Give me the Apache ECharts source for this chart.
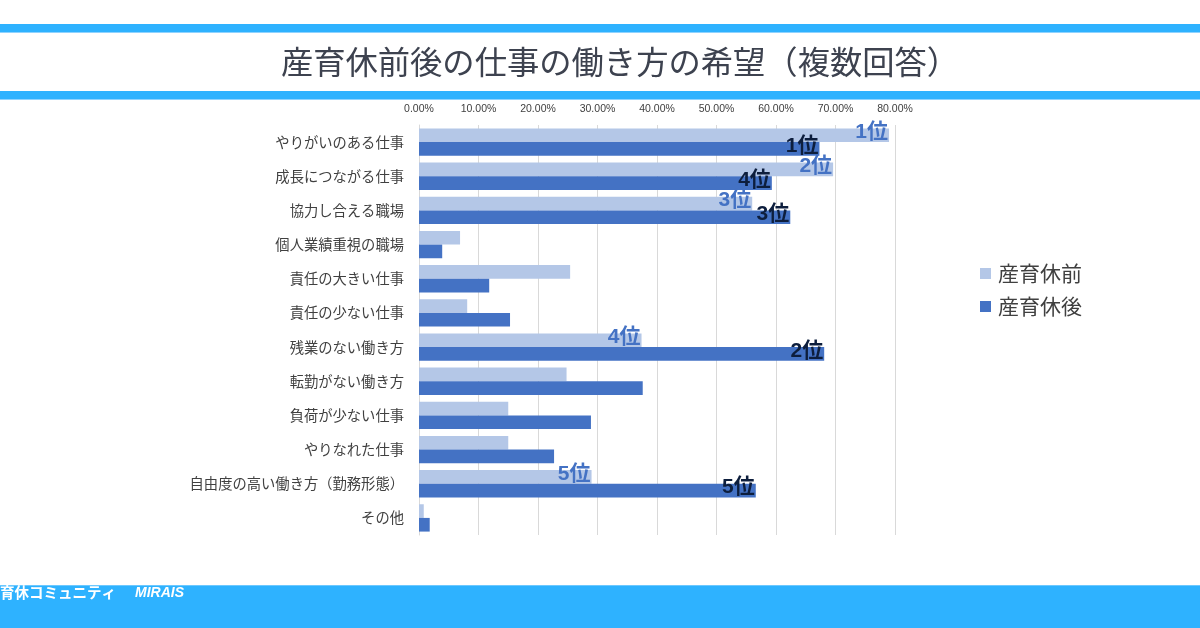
<!DOCTYPE html>
<html><head><meta charset="utf-8">
<script src="https://cdn.jsdelivr.net/npm/echarts@6/dist/echarts.min.js"></script>
<style>html,body{margin:0;padding:0;background:#fff}#c{width:1200px;height:628px}</style>
</head><body><div id="c"></div>
<script>
const categories = ['やりがいのある仕事','成長につながる仕事','協力し合える職場','個人業績重視の職場','責任の大きい仕事','責任の少ない仕事','残業のない働き方','転勤がない働き方','負荷が少ない仕事','やりなれた仕事','自由度の高い働き方（勤務形態）','その他'];
const beforeValues = [79.0, 69.6, 56.0, 6.9, 25.4, 8.1, 37.4, 24.8, 15.0, 15.0, 29.0, 0.8];
const afterValues  = [67.3, 59.3, 62.4, 3.9, 11.8, 15.3, 68.1, 37.6, 28.9, 22.7, 56.6, 1.8];
const beforeRanks = ['1位','2位','3位','','','','4位','','','','5位',''];
const afterRanks  = ['1位','4位','3位','','','','2位','','','','5位',''];
const seriesNames = ['産育休前','産育休後'];
const xTickLabels = ['0.00%','10.00%','20.00%','30.00%','40.00%','50.00%','60.00%','70.00%','80.00%'];
const titleText = '産育休前後の仕事の働き方の希望（複数回答）';
const footerText = '育休コミュニティ';
const footerBrand = 'MIRAIS';

const chart = echarts.init(document.getElementById('c'), null, {renderer:'canvas'});
const CJK = "'Noto Sans CJK JP', sans-serif";
const LAT = "'Liberation Sans', Arial, 'Noto Sans CJK JP', sans-serif";
const BAND = '#2eb2ff';

function mkSeries(name, values, ranks, color, labelColor, offY){
  return {
    name, type:'bar', barGap:'0%', barCategoryGap:'20%',
    itemStyle:{color},
    data: values,
    label:{
      show:true, position:'insideRight', distance:1, offset:[0,offY],
      formatter:p=>ranks[p.dataIndex],
      color:labelColor, fontSize:21, fontWeight:'bold', fontFamily:LAT
    },
    emphasis:{disabled:true}, animation:false
  };
}

chart.setOption({
  animation:false,
  backgroundColor:'#fff',
  title:{
    text:titleText, left:615, top:41, textAlign:'center',
    textStyle:{fontFamily:CJK, fontSize:32.3, fontWeight:'normal', color:'#3d424f'}
  },
  legend:{
    orient:'vertical', left:975, top:258, itemWidth:11, itemHeight:11, itemGap:12,
    icon:'rect', data:seriesNames,
    textStyle:{fontFamily:CJK, fontSize:21, color:'#404040', padding:[0,0,0,2]}
  },
  grid:{left:419, right:305, top:125, bottom:93, containLabel:false},
  xAxis:{
    type:'value', position:'top', min:0, max:80, interval:10,
    axisLine:{show:false}, axisTick:{show:false},
    splitLine:{lineStyle:{color:'#d9d9d9', width:1}},
    axisLabel:{margin:11, fontSize:10.5, color:'#404040', fontFamily:LAT,
      formatter:v=>xTickLabels[Math.round(v/10)]}
  },
  yAxis:{
    type:'category', data:categories, inverse:true,
    axisLine:{lineStyle:{color:'#d9d9d9'}}, axisTick:{show:false},
    axisLabel:{margin:15, fontSize:14.3, color:'#404040', fontFamily:CJK}
  },
  series:[
    mkSeries(seriesNames[0], beforeValues, beforeRanks, '#b4c7e7', '#4472c4', -3),
    mkSeries(seriesNames[1], afterValues, afterRanks, '#4472c4', '#0d1e3d', -3)
  ],
  graphic:[
    {type:'rect', shape:{x:0,y:24,width:1200,height:8}, style:{fill:BAND}},
    {type:'rect', shape:{x:0,y:32,width:1200,height:1}, style:{fill:'#8fd3ff'}},
    {type:'rect', shape:{x:0,y:91,width:1200,height:8}, style:{fill:BAND}},
    {type:'rect', shape:{x:0,y:99,width:1200,height:1}, style:{fill:'#8fd3ff'}},
    {type:'rect', shape:{x:0,y:585,width:1200,height:43}, style:{fill:BAND}},
    {type:'rect', shape:{x:0,y:585,width:1200,height:1}, style:{fill:'#6cc8ff'}},
    {type:'text', left:0, top:585, style:{text:footerText, fill:'#fff', font:"bold 14.5px 'Noto Sans CJK JP'"}},
    {type:'text', left:135, top:586, style:{text:footerBrand, fill:'#fff', font:"italic bold 14px 'Liberation Sans', Arial"}}
  ]
});
</script>
</body></html>
